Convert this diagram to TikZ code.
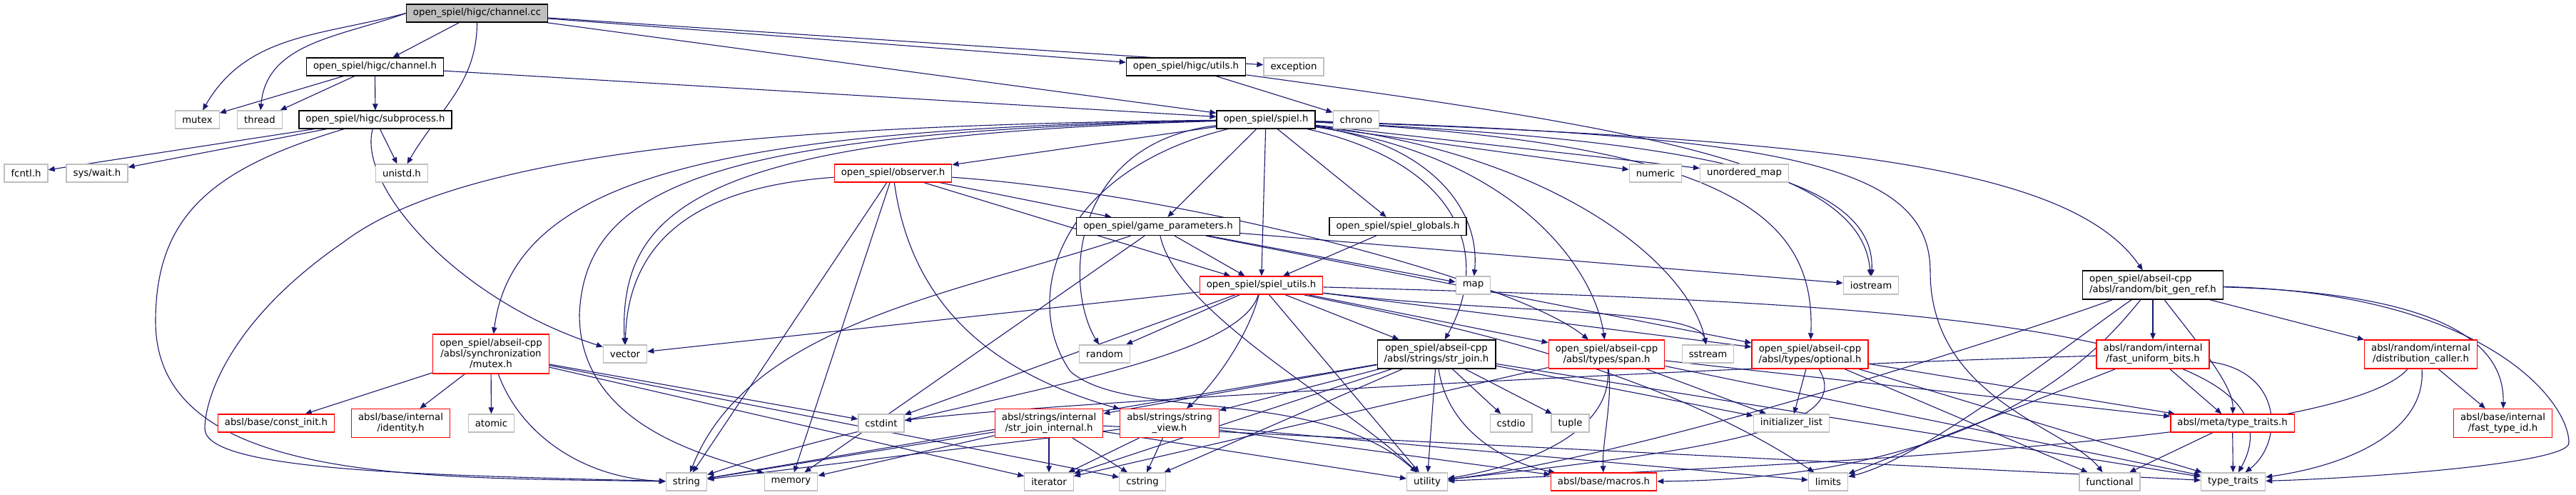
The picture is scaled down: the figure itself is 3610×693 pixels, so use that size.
\documentclass[tikz,border=0pt]{standalone}
\usepackage{fontspec}
\setmainfont{DejaVu Sans}
\usetikzlibrary{arrows.meta,backgrounds}
\definecolor{edgeblue}{RGB}{25,25,112}
\definecolor{sysgray}{RGB}{191,191,191}

\begin{document}
\begin{tikzpicture}[x=1pt,y=-1pt,
  font=\fontsize{13.3}{15}\selectfont,
  proj/.style={draw=black,fill=white,line width=1.3pt,inner xsep=9.5pt,
    inner ysep=2pt,minimum height=25pt,align=center},
  root/.style={proj,fill=sysgray},
  trunc/.style={proj,draw=red},
  sys/.style={proj,draw=sysgray},
  twoline/.style={minimum height=40pt},
  threeline/.style={minimum height=55pt},
  dep/.style={-{Triangle[length=9pt,width=7.5pt]},draw=edgeblue,
    line width=1.1pt}]
\useasboundingbox (0,0) rectangle (3610,693);

\node[root] (cc) at (668.5,18.5) {open\_spiel/higc/channel.cc};
\node[proj] (chh) at (525.5,93.5) {open\_spiel/higc/channel.h};
\node[sys] (stdmutex) at (276.5,167.5) {mutex};
\node[sys] (thread) at (364,167.5) {thread};
\node[proj] (subp) at (526,167.5) {open\_spiel/higc/subprocess.h};
\node[sys] (fcntl) at (36.5,242.5) {fcntl.h};
\node[sys] (wait) at (136,242.5) {sys/wait.h};
\node[sys] (unistd) at (563,242.5) {unistd.h};
\node[proj] (utils) at (1662,93.5) {open\_spiel/higc/utils.h};
\node[sys] (exception) at (1813,93.5) {exception};
\node[proj] (spiel) at (1774,167.5) {open\_spiel/spiel.h};
\node[sys] (chrono) at (1900.5,167.5) {chrono};
\node[trunc] (observer) at (1251.5,242.5) {open\_spiel/observer.h};
\node[sys] (numeric) at (2320,242.5) {numeric};
\node[sys] (umap) at (2444.5,242.5) {unordered\_map};
\node[proj] (gparams) at (1623,317) {open\_spiel/game\_parameters.h};
\node[proj] (sglobals) at (1959,317) {open\_spiel/spiel\_globals.h};
\node[trunc] (sutils) at (1767.5,399.5) {open\_spiel/spiel\_utils.h};
\node[sys] (map) at (2064.5,399.5) {map};
\node[sys] (iostream) at (2622,399.5) {iostream};
\node[proj,twoline,align=left] (bitgen) at (3017,399) {open\_spiel/abseil-cpp\\/absl/random/bit\_gen\_ref.h};
\node[trunc,threeline] (amutex) at (688,495.5) {open\_spiel/abseil-cpp\\/absl/synchronization\\/mutex.h};
\node[sys] (vector) at (876,495.5) {vector};
\node[sys] (random) at (1548,495.5) {random};
\node[proj,twoline] (strjoin) at (2013,496) {open\_spiel/abseil-cpp\\/absl/strings/str\_join.h};
\node[trunc,twoline] (span) at (2251.5,496) {open\_spiel/abseil-cpp\\/absl/types/span.h};
\node[sys] (sstream) at (2393.5,495.5) {sstream};
\node[trunc,twoline] (optional) at (2536.5,496) {open\_spiel/abseil-cpp\\/absl/types/optional.h};
\node[trunc,twoline] (fub) at (3017,496) {absl/random/internal\\/fast\_uniform\_bits.h};
\node[trunc,twoline] (dcaller) at (3392.5,496) {absl/random/internal\\/distribution\_caller.h};
\node[trunc] (constinit) at (387,592.5) {absl/base/const\_init.h};
\node[trunc,twoline] (identity) at (561.5,592.5) {absl/base/internal\\/identity.h};
\node[sys] (atomic) at (688.5,592.5) {atomic};
\node[sys] (cstdint) at (1235,592.5) {cstdint};
\node[trunc,twoline] (sjint) at (1470,592.5) {absl/strings/internal\\/str\_join\_internal.h};
\node[trunc,twoline] (strview) at (1639,592.5) {absl/strings/string\\\_view.h};
\node[sys] (cstdio) at (2117.5,592.5) {cstdio};
\node[sys] (tuple) at (2200.5,592.5) {tuple};
\node[sys] (initlist) at (2510.5,592.5) {initializer\_list};
\node[trunc] (metatt) at (3128.5,592.5) {absl/meta/type\_traits.h};
\node[trunc,twoline] (fastid) at (3507.5,592.5) {absl/base/internal\\/fast\_type\_id.h};
\node[sys] (string) at (962,674.5) {string};
\node[sys] (memory) at (1108.5,674.5) {memory};
\node[sys] (iterator) at (1470,674.5) {iterator};
\node[sys] (cstring) at (1601,674.5) {cstring};
\node[sys] (utility) at (2000,674.5) {utility};
\node[trunc] (macros) at (2247.5,674.5) {absl/base/macros.h};
\node[sys] (limits) at (2562,674.5) {limits};
\node[sys] (functional) at (2956.5,674.5) {functional};
\node[sys] (typetraits) at (3129.5,674.5) {type\_traits};

\begin{scope}[on background layer]
\draw[dep] (cc.west) to[out=195,in=60] (stdmutex);
\draw[dep] (cc.west) to[out=200,in=85] (thread);
\draw[dep] (cc) -- (chh);
\draw[dep] (cc) to[out=-90,in=60] (unistd);
\draw[dep] (cc) -- (utils);
\draw[dep] (cc) -- (exception);
\draw[dep] (cc) -- (spiel);

\draw[dep] (chh) -- (stdmutex);
\draw[dep] (chh) -- (thread);
\draw[dep] (chh) -- (subp);
\draw[dep] (chh) -- (spiel);

\draw[dep] (subp) -- (fcntl);
\draw[dep] (subp) -- (wait);
\draw[dep] (subp) -- (unistd);
\draw[dep] (subp) .. controls (500,260) and (640,420) .. (vector);
\draw[dep] (subp) .. controls (300,235) and (218,300) .. (218,450)
  .. controls (218,680) and (600,668) .. (string);

\draw[dep] (utils) -- (chrono);
\draw[dep] (utils) .. controls (2300,180) and (2610,230) .. (iostream);

\draw[dep] (spiel) -- (observer);
\draw[dep] (spiel) -- (gparams);
\draw[dep] (spiel) -- (sutils);
\draw[dep] (spiel) -- (sglobals);
\draw[dep] (spiel) -- (numeric);
\draw[dep] (spiel) -- (umap);
\draw[dep] (spiel) .. controls (2000,200) and (2075,290) .. (map);
\draw[dep] (spiel) .. controls (2350,195) and (2630,240) .. (iostream);
\draw[dep] (spiel) .. controls (2200,220) and (2370,380) .. (sstream);
\draw[dep] (spiel) .. controls (1500,200) and (1490,400) .. (random);
\draw[dep] (spiel) .. controls (1000,190) and (866,280) .. (vector);
\draw[dep] (spiel) .. controls (1100,175) and (650,210) .. (480,340)
  .. controls (320,450) and (287,560) .. (287,600)
  .. controls (287,660) and (600,665) .. (string);
\draw[dep] (spiel) .. controls (1000,180) and (720,250) .. (amutex);
\draw[dep] (spiel) .. controls (1000,185) and (820,260) .. (812,440)
  .. controls (812,600) and (1000,640) .. (memory);
\draw[dep] (spiel) .. controls (1480,240) and (1430,420) .. (1500,520)
  .. controls (1580,590) and (1850,540) .. (utility);
\draw[dep] (spiel) .. controls (2500,190) and (2705,230) .. (2705,380)
  .. controls (2705,560) and (2900,600) .. (functional);
\draw[dep] (spiel) .. controls (2050,230) and (2090,360) .. (strjoin);
\draw[dep] (spiel) .. controls (2130,220) and (2235,380) .. (span);
\draw[dep] (spiel) .. controls (2420,200) and (2545,300) .. (optional);
\draw[dep] (spiel) .. controls (2550,195) and (2900,230) .. (bitgen);

\draw[dep] (observer) -- (gparams);
\draw[dep] (observer) -- (sutils);
\draw[dep] (observer) .. controls (1000,260) and (880,320) .. (vector);
\draw[dep] (observer) -- (string);
\draw[dep] (observer) -- (memory);
\draw[dep] (observer) .. controls (1280,450) and (1420,530) .. (strview);
\draw[dep] (observer) .. controls (1650,270) and (2120,390) .. (span);

\draw[dep] (gparams) -- (sutils);
\draw[dep] (gparams) -- (map);
\draw[dep] (gparams) -- (iostream);
\draw[dep] (gparams) .. controls (1350,410) and (1050,450) .. (string);
\draw[dep] (gparams) -- (memory);
\draw[dep] (gparams) .. controls (1650,440) and (1880,560) .. (utility);
\draw[dep] (gparams) -- (optional);

\draw[dep] (sglobals) -- (sutils);

\draw[dep] (sutils) -- (strjoin);
\draw[dep] (sutils) -- (span);
\draw[dep] (sutils) .. controls (2100,440) and (2380,430) .. (sstream);
\draw[dep] (sutils) -- (optional);
\draw[dep] (sutils) -- (utility);
\draw[dep] (sutils) -- (random);
\draw[dep] (sutils) -- (vector);
\draw[dep] (sutils) -- (cstdint);
\draw[dep] (sutils) .. controls (1730,520) and (1300,560) .. (string);
\draw[dep] (sutils) .. controls (1750,470) and (1700,540) .. (strview);
\draw[dep] (sutils) .. controls (2500,420) and (3260,440) .. (typetraits);
\draw[dep] (sutils) .. controls (1950,440) and (2300,500) .. (limits);

\draw[dep] (amutex) -- (constinit);
\draw[dep] (amutex) -- (identity);
\draw[dep] (amutex) -- (atomic);
\draw[dep] (amutex) -- (cstdint);
\draw[dep] (amutex) -- (iterator);
\draw[dep] (amutex) -- (cstring);
\draw[dep] (amutex) .. controls (730,610) and (820,670) .. (string);

\draw[dep] (strjoin) -- (cstdio);
\draw[dep] (strjoin) -- (tuple);
\draw[dep] (strjoin) -- (utility);
\draw[dep] (strjoin) .. controls (2030,610) and (2120,650) .. (macros);
\draw[dep] (strjoin) -- (initlist);
\draw[dep] (strjoin) -- (sjint);
\draw[dep] (strjoin) -- (strview);
\draw[dep] (strjoin) -- (iterator);
\draw[dep] (strjoin) -- (cstring);
\draw[dep] (strjoin) -- (string);
\draw[dep] (strjoin) -- (typetraits);

\draw[dep] (span) -- (initlist);
\draw[dep] (span) .. controls (2260,560) and (2245,620) .. (macros);
\draw[dep] (span) .. controls (2260,600) and (2150,650) .. (utility);
\draw[dep] (span) -- (iterator);
\draw[dep] (span) -- (typetraits);
\draw[dep] (span) -- (metatt);

\draw[dep] (optional) -- (initlist);
\draw[dep] (optional) .. controls (2600,600) and (2400,630) .. (utility);
\draw[dep] (optional) -- (functional);
\draw[dep] (optional) -- (typetraits);
\draw[dep] (optional) -- (metatt);

\draw[dep] (bitgen) -- (fub);
\draw[dep] (bitgen) -- (dcaller);
\draw[dep] (bitgen) .. controls (3400,410) and (3510,470) .. (fastid);
\draw[dep] (bitgen) .. controls (3480,410) and (3600,560) .. (3600,620)
  .. controls (3600,650) and (3300,670) .. (typetraits);
\draw[dep] (bitgen) .. controls (3080,480) and (3130,540) .. (metatt);
\draw[dep] (bitgen) .. controls (2850,460) and (2300,640) .. (utility);
\draw[dep] (bitgen) .. controls (2900,480) and (2700,640) .. (limits);
\draw[dep] (bitgen) .. controls (2950,480) and (2800,670) .. (macros);

\draw[dep] (fub) -- (metatt);
\draw[dep] (fub) .. controls (3200,520) and (3200,620) .. (typetraits);
\draw[dep] (fub) -- (limits);
\draw[dep] (fub) .. controls (2500,510) and (1500,560) .. (cstdint);

\draw[dep] (dcaller) -- (fastid);
\draw[dep] (dcaller) .. controls (3400,600) and (3300,650) .. (typetraits);
\draw[dep] (dcaller) .. controls (3300,600) and (2800,640) .. (utility);

\draw[dep] (metatt) -- (functional);
\draw[dep] (metatt) -- (typetraits);

\draw[dep] (strview) -- (iterator);
\draw[dep] (strview) -- (cstring);
\draw[dep] (strview) -- (string);
\draw[dep] (strview) -- (limits);
\draw[dep] (strview) -- (macros);

\draw[dep] (sjint) -- (iterator);
\draw[dep] (sjint) -- (cstring);
\draw[dep] (sjint) -- (memory);
\draw[dep] (sjint) -- (string);
\draw[dep] (sjint) -- (typetraits);
\draw[dep] (sjint) -- (utility);
\end{scope}
\end{tikzpicture}
\end{document}
